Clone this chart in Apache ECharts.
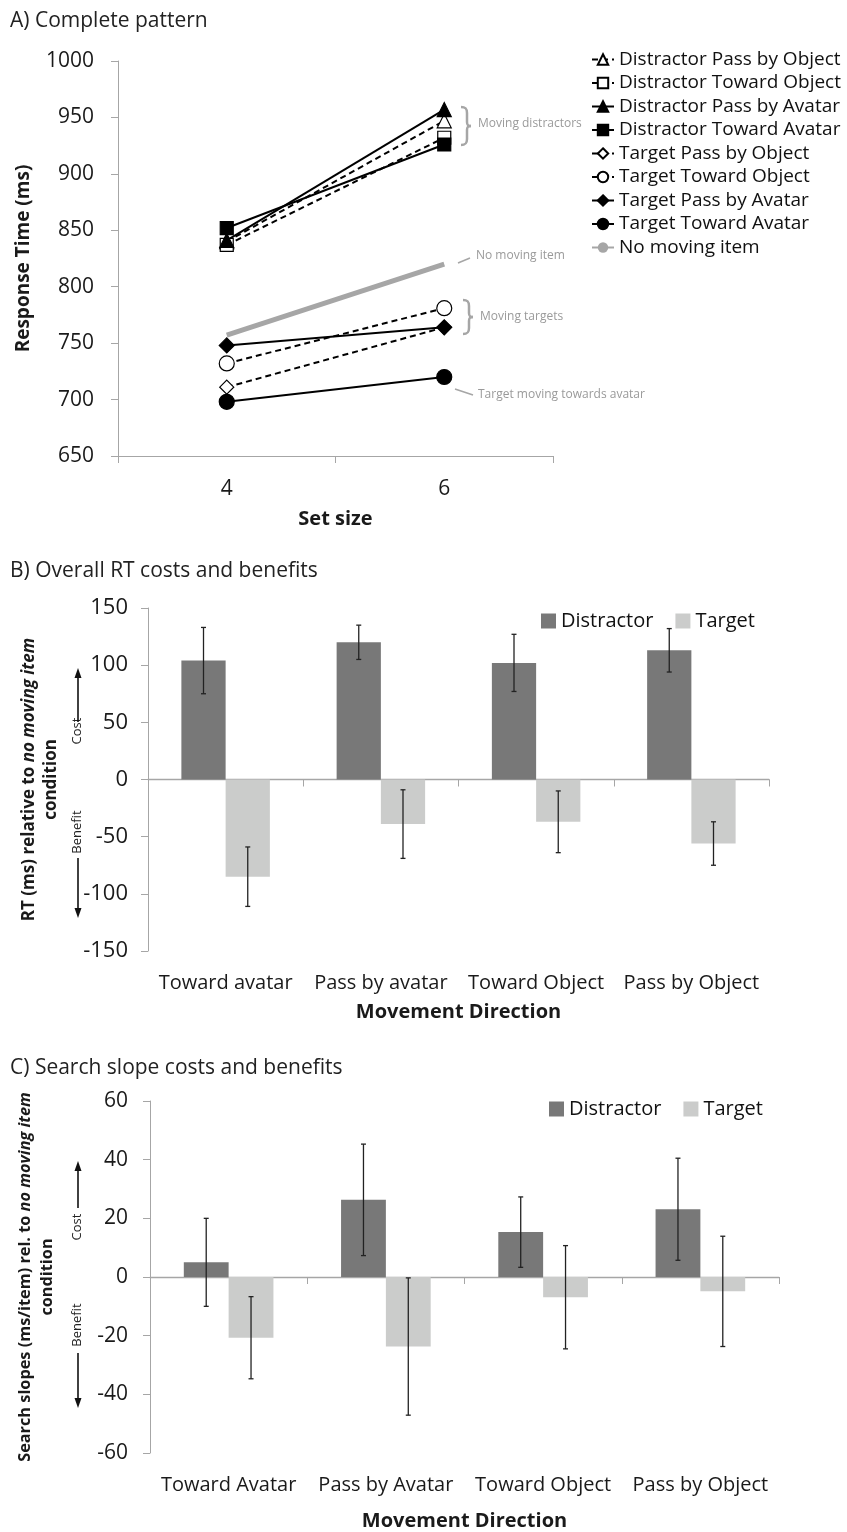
<!DOCTYPE html>
<html><head><meta charset="utf-8">
<script src="https://cdn.jsdelivr.net/npm/echarts@6/dist/echarts.min.js"></script>
<style>html,body{margin:0;padding:0;background:#fff}#c{width:847px;height:1532px}</style>
</head><body><div id="c"></div>
<script>
// ---------- Panel A data ----------
const setSizes = ['4', '6'];
const distPassObject = [840, 947];
const distTowardObject = [837, 932];
const distPassAvatar = [841, 957];
const distTowardAvatar = [852, 926];
const targPassObject = [711, 764];
const targTowardObject = [732, 781];
const targPassAvatar = [748, 764];
const targTowardAvatar = [698, 720];
const noMoving = [757, 820];
const rtTicksA = [650, 1000, 50];

// ---------- Panel B data ----------
const dirsB = ['Toward avatar', 'Pass by avatar', 'Toward Object', 'Pass by Object'];
const rtDistractor = [104, 120, 102, 113];
const rtDistractorErr = [29, 15, 25, 19];
const rtTarget = [-85, -39, -37, -56];
const rtTargetErr = [26, 30, 27, 19];

// ---------- Panel C data ----------
const dirsC = ['Toward Avatar', 'Pass by Avatar', 'Toward Object', 'Pass by Object'];
const slopeDistractor = [5, 26.3, 15.3, 23.1];
const slopeDistractorErr = [15, 19, 12, 17.4];
const slopeTarget = [-20.7, -23.7, -6.9, -4.9];
const slopeTargetErr = [14, 23.4, 17.6, 18.8];

const FONT = '"Open Sans", "Noto Sans", sans-serif';
const AX = '#a6a6a6';
const TXT = '#1a1a1a';
const DCOL = '#787878';
const TCOL = '#cbcccb';
const BARW = '28.5%';

const chart = echarts.init(document.getElementById('c'), null, {renderer: 'canvas'});

function lineSeries(name, data, symbol, size, filled, dashed) {
  return {
    name, type: 'line', xAxisIndex: 0, yAxisIndex: 0, data,
    symbol, symbolSize: size, showSymbol: true,
    lineStyle: {color: '#000', width: 2, type: dashed ? [6, 4] : 'solid'},
    itemStyle: {color: filled ? '#000' : '#fff', borderColor: '#000', borderWidth: 1.2, opacity: 1},
    emphasis: {disabled: true}, animation: false, z: 3
  };
}

function errSeries(name, xIdx, yIdx, vals, errs, sign) {
  return {
    type: 'custom', name: name + ' err', xAxisIndex: xIdx, yAxisIndex: yIdx, z: 5,
    data: vals.map((v, i) => [i, v, errs[i]]),
    encode: {x: 0, y: 1},
    renderItem: function (params, api) {
      const xi = api.value(0), v = api.value(1), e = api.value(2);
      const band = api.size([1, 0])[0];
      const c = api.coord([xi, v]);
      const x = c[0] + sign * band * 0.285 / 2;
      const top = api.coord([xi, v + e])[1];
      const bot = api.coord([xi, v - e])[1];
      const cap = 2.5;
      const st = {stroke: '#222', lineWidth: 1.3};
      return {type: 'group', children: [
        {type: 'line', shape: {x1: x, y1: top, x2: x, y2: bot}, style: st},
        {type: 'line', shape: {x1: x - cap, y1: top, x2: x + cap, y2: top}, style: st},
        {type: 'line', shape: {x1: x - cap, y1: bot, x2: x + cap, y2: bot}, style: st}
      ]};
    },
    silent: true, animation: false
  };
}

function barSeries(name, xIdx, yIdx, data, color) {
  return {name, type: 'bar', xAxisIndex: xIdx, yAxisIndex: yIdx, data,
    barWidth: BARW, barGap: '0%', itemStyle: {color}, emphasis: {disabled: true}, animation: false, z: 2};
}

function valueAxis(gridIndex, min, max, interval, margin, labelSize, nameText, nameGap, nameSize, rich) {
  return {
    type: 'value', gridIndex, min, max, interval,
    axisLine: {show: true, lineStyle: {color: AX, width: 1}},
    axisTick: {show: true, length: 7, lineStyle: {color: AX}},
    splitLine: {show: false},
    axisLabel: {fontFamily: FONT, fontSize: labelSize, color: TXT, margin, formatter: v => String(v)},
    name: nameText, nameLocation: 'middle', nameRotate: 90, nameGap,
    nameTextStyle: Object.assign({fontFamily: FONT, fontSize: nameSize, fontWeight: 'bold', color: TXT, lineHeight: 22}, rich ? {rich} : {})
  };
}

function richI(size) {
  return {i: {fontFamily: FONT, fontSize: size, fontWeight: 'bold', fontStyle: 'italic', color: TXT, lineHeight: 22}};
}

function zeroAxis(gridIndex, cats) {
  return {type: 'category', gridIndex, data: cats, position: 'top',
    axisLine: {show: true, onZero: true, lineStyle: {color: AX, width: 1.3}},
    axisTick: {show: true, inside: true, length: 7, lineStyle: {color: AX}},
    axisLabel: {show: false}, splitLine: {show: false}};
}
function labelAxis(gridIndex, cats, margin, nameGap) {
  return {type: 'category', gridIndex, data: cats, position: 'bottom',
    axisLine: {show: false, onZero: false}, axisTick: {show: false},
    axisLabel: {fontFamily: FONT, fontSize: 20, color: TXT, margin, interval: 0},
    name: 'Movement Direction', nameLocation: 'middle', nameGap,
    nameTextStyle: {fontFamily: FONT, fontSize: 20, fontWeight: 'bold', color: TXT}};
}

function arrow(x, y1, y2) {
  const dir = y1 > y2 ? 1 : -1;
  return [
    {type: 'line', shape: {x1: x, y1: y1, x2: x, y2: y2 + dir * 6}, style: {stroke: '#111', lineWidth: 1.6}},
    {type: 'polygon', shape: {points: [[x - 3.5, y2 + dir * 10], [x + 3.5, y2 + dir * 10], [x, y2]]}, style: {fill: '#111'}}
  ];
}
function rotText(x, y, text, size) {
  return {type: 'text', x, y, rotation: Math.PI / 2,
    style: {text, font: size + 'px ' + FONT, fill: '#222', textAlign: 'center', textVerticalAlign: 'middle'}};
}
function plainText(x, y, text, size, color) {
  return {type: 'text', x, y,
    style: {text, font: size + 'px ' + FONT, fill: color, textAlign: 'left', textVerticalAlign: 'middle'}};
}
function brace(x, y, h) {
  const m = h / 2;
  const st = {stroke: '#a6a6a6', lineWidth: 2.5, fill: null};
  return {type: 'group', x, y, children: [
    {type: 'bezierCurve', shape: {x1: 0, y1: 0, x2: 6, y2: 6, cpx1: 5, cpy1: 0, cpx2: 6, cpy2: 2}, style: st},
    {type: 'line', shape: {x1: 6, y1: 6, x2: 6, y2: m - 4}, style: st},
    {type: 'bezierCurve', shape: {x1: 6, y1: m - 4, x2: 10, y2: m, cpx1: 6, cpy1: m - 1, cpx2: 7, cpy2: m}, style: st},
    {type: 'bezierCurve', shape: {x1: 10, y1: m, x2: 6, y2: m + 4, cpx1: 7, cpy1: m, cpx2: 6, cpy2: m + 1}, style: st},
    {type: 'line', shape: {x1: 6, y1: m + 4, x2: 6, y2: h - 6}, style: st},
    {type: 'bezierCurve', shape: {x1: 6, y1: h - 6, x2: 0, y2: h, cpx1: 6, cpy1: h - 2, cpx2: 5, cpy2: h}, style: st}
  ]};
}
const GREY = '#9a9a9a';

const graphics = [
  plainText(10, 21, 'A) Complete pattern', 21, '#222'),
  plainText(10, 571, 'B) Overall RT costs and benefits', 21, '#222'),
  plainText(10, 1068, 'C) Search slope costs and benefits', 21, '#222'),
  // Panel A annotations
  brace(461, 107, 38),
  plainText(478, 124, 'Moving distractors', 12, GREY),
  {type: 'line', shape: {x1: 458, y1: 263, x2: 470, y2: 258}, style: {stroke: '#a6a6a6', lineWidth: 1.5}},
  plainText(476, 256, 'No moving item', 12, GREY),
  brace(463, 300, 34),
  plainText(480, 317, 'Moving targets', 12, GREY),
  {type: 'line', shape: {x1: 455, y1: 389, x2: 473, y2: 395}, style: {stroke: '#a6a6a6', lineWidth: 1.5}},
  plainText(478, 395, 'Target moving towards avatar', 12, GREY),
  // Panel B cost / benefit
  rotText(77, 731, 'Cost', 13),
  rotText(77, 832, 'Benefit', 13),
  ...arrow(78, 722, 668),
  ...arrow(78, 858, 918),
  // Panel C cost / benefit
  rotText(77, 1227, 'Cost', 13),
  rotText(77, 1325, 'Benefit', 13),
  ...arrow(78, 1208, 1161),
  ...arrow(78, 1353, 1408)
];

const option = {
  backgroundColor: '#fff',
  animation: false,
  textStyle: {fontFamily: FONT},
  grid: [
    {left: 118, top: 61, width: 435, height: 395, containLabel: false},
    {left: 148, top: 608, width: 621, height: 343, containLabel: false},
    {left: 150, top: 1101, width: 629, height: 353, containLabel: false}
  ],
  legend: [
    {orient: 'vertical', left: 586, top: 45, itemWidth: 22, itemHeight: 13, itemGap: 4.5,
      textStyle: {fontFamily: FONT, fontSize: 19, color: '#111', lineHeight: 19},
      data: ['Distractor Pass by Object', 'Distractor Toward Object', 'Distractor Pass by Avatar', 'Distractor Toward Avatar',
        'Target Pass by Object', 'Target Toward Object', 'Target Pass by Avatar', 'Target Toward Avatar', 'No moving item']},
    {orient: 'horizontal', left: 536, top: 606, itemWidth: 15, itemHeight: 15, itemGap: 22, icon: 'rect',
      textStyle: {fontFamily: FONT, fontSize: 20, color: '#111'}, data: ['Distractor', 'Target']},
    {orient: 'horizontal', left: 544, top: 1094, itemWidth: 15, itemHeight: 15, itemGap: 22, icon: 'rect',
      textStyle: {fontFamily: FONT, fontSize: 20, color: '#111'}, data: ['Distractor', 'Target']}
  ],
  xAxis: [
    {type: 'category', gridIndex: 0, data: setSizes,
      axisLine: {show: true, lineStyle: {color: AX, width: 1}},
      axisTick: {show: true, length: 7, lineStyle: {color: AX}},
      axisLabel: {fontFamily: FONT, fontSize: 21, color: TXT, margin: 23},
      name: 'Set size', nameLocation: 'middle', nameGap: 53,
      nameTextStyle: {fontFamily: FONT, fontSize: 20, fontWeight: 'bold', color: TXT}},
    zeroAxis(1, dirsB),
    labelAxis(1, dirsB, 22, 51),
    zeroAxis(2, dirsC),
    labelAxis(2, dirsC, 22, 58)
  ],
  yAxis: [
    valueAxis(0, rtTicksA[0], rtTicksA[1], rtTicksA[2], 24, 21, 'Response Time (ms)', 83, 19),
    valueAxis(1, -150, 150, 50, 20, 22, 'RT (ms) relative to {i|no moving item}\ncondition', 86, 17, richI(17)),
    valueAxis(2, -60, 60, 20, 22, 21, 'Search slopes (ms/item) rel. to {i|no moving item}\ncondition', 92, 16.3, richI(16.3))
  ],
  series: [
    {name: 'No moving item', type: 'line', xAxisIndex: 0, yAxisIndex: 0, data: noMoving, symbol: 'none',
      lineStyle: {color: '#a6a6a6', width: 5}, itemStyle: {color: '#a6a6a6'}, emphasis: {disabled: true}, z: 2},
    lineSeries('Distractor Pass by Object', distPassObject, 'triangle', 14, false, true),
    lineSeries('Distractor Toward Object', distTowardObject, 'rect', 13, false, true),
    lineSeries('Target Pass by Object', targPassObject, 'diamond', 14, false, true),
    lineSeries('Target Toward Object', targTowardObject, 'circle', 15, false, true),
    lineSeries('Distractor Pass by Avatar', distPassAvatar, 'triangle', 14, true, false),
    lineSeries('Distractor Toward Avatar', distTowardAvatar, 'rect', 13, true, false),
    lineSeries('Target Pass by Avatar', targPassAvatar, 'diamond', 15, true, false),
    lineSeries('Target Toward Avatar', targTowardAvatar, 'circle', 15, true, false),

    barSeries('Distractor', 2, 1, rtDistractor, DCOL),
    barSeries('Target', 2, 1, rtTarget, TCOL),
    errSeries('Distractor', 2, 1, rtDistractor, rtDistractorErr, -1),
    errSeries('Target', 2, 1, rtTarget, rtTargetErr, 1),

    barSeries('Distractor', 4, 2, slopeDistractor, DCOL),
    barSeries('Target', 4, 2, slopeTarget, TCOL),
    errSeries('Distractor', 4, 2, slopeDistractor, slopeDistractorErr, -1),
    errSeries('Target', 4, 2, slopeTarget, slopeTargetErr, 1)
  ],
  graphic: graphics
};
chart.setOption(option);
</script>
</body></html>
